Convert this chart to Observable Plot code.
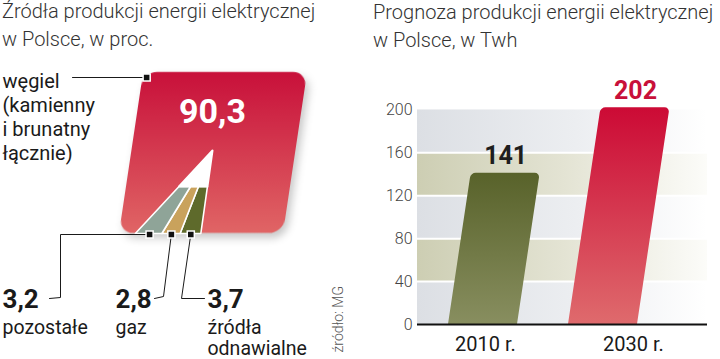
<!DOCTYPE html>
<html><head><meta charset="utf-8">
<script src="https://cdn.jsdelivr.net/npm/d3@7"></script>
<script src="https://cdn.jsdelivr.net/npm/@observablehq/plot@0.6"></script>
<style>
html,body{margin:0;padding:0;background:#fff;}
#root{position:relative;width:720px;height:359px;overflow:hidden;font-family:Roboto,"Noto Sans",sans-serif;}
.panel{position:absolute;top:0;width:360px;height:359px;}
.title{position:absolute;font-weight:300;color:#333;line-height:28px;white-space:nowrap;}
</style></head><body>
<svg width="0" height="0" style="position:absolute">
<defs>
<linearGradient id="gRed" x1="0" y1="0" x2="0" y2="1"><stop offset="0" stop-color="#c8103a"/><stop offset="1" stop-color="#e06565"/></linearGradient>
<linearGradient id="gRed2" x1="0" y1="0" x2="0" y2="1"><stop offset="0" stop-color="#cc0a35"/><stop offset="1" stop-color="#e07070"/></linearGradient>
<linearGradient id="gOlive" x1="0" y1="0" x2="0" y2="1"><stop offset="0" stop-color="#58622a"/><stop offset="1" stop-color="#8c9264"/></linearGradient>
<linearGradient id="gBandGray" x1="0" y1="0" x2="1" y2="0"><stop offset="0" stop-color="#dcdfe4"/><stop offset="0.55" stop-color="#eceef1"/><stop offset="1" stop-color="#ffffff"/></linearGradient>
<linearGradient id="gBandBeige" x1="0" y1="0" x2="1" y2="0"><stop offset="0" stop-color="#cdceb3"/><stop offset="0.5" stop-color="#e3e3d3"/><stop offset="1" stop-color="#fcfcf9"/></linearGradient>
</defs></svg>
<div id="root">
 <div id="left" class="panel" style="left:0"></div>
 <div id="right" class="panel" style="left:360px"></div>
 <div class="title" style="left:2px;top:-3px;font-size:20px">Źródła produkcji energii elektrycznej<br>w Polsce, w proc.</div>
 <div class="title" style="left:373px;top:-2px;font-size:20px">Prognoza produkcji energii elektrycznej<br>w Polsce, w Twh</div>
</div>
<script>
// ---- data ----
const sourceNames = ["węgiel\n(kamienny\ni brunatny\nłącznie)", "pozostałe", "gaz", "źródła\nodnawialne"];
const sourceShares = [90.3, 3.2, 2.8, 3.7];
const sourceColors = ["url(#gRed)", "#8fa498", "#c9a25c", "#5e6a2b"];
const sourceNote = "źródło: MG";
const years = ["2010 r.", "2030 r."];
const production = [141, 202];
const yTicks = [0, 40, 80, 120, 160, 200];

const fmt = v => String(v).replace(".", ",");
const SKEW = 0.15;
const SKEW_DEG = -Math.atan(SKEW) * 180 / Math.PI;
const FONT = "Roboto, 'Noto Sans', sans-serif";

// ---- left panel: stylised pie inside skewed shape ----
const L = {x0: 119, w: 164, top: 72, bottom: 233, rx: 14, cx: 212, cy: 150, yIn: 186, rot: 8};
const total = d3.sum(sourceShares);
const xAt = (deg, Y) => L.cx - (Y - L.cy) * Math.tan(deg * Math.PI / 180);
let ang = L.rot;
const slices = [3, 2, 1].map(i => {
  const a1 = ang, a2 = ang + sourceShares[i] / total * 360; ang = a2;
  return {i,
    pts: [[xAt(a1, L.yIn), L.yIn], [xAt(a2, L.yIn), L.yIn], [xAt(a2, L.bottom), L.bottom], [xAt(a1, L.bottom), L.bottom]].map(([x, y]) => ({x, y})),
    mx: xAt((a1 + a2) / 2, L.bottom)};
});
const wedge = [{x: L.cx, y: L.cy}, {x: xAt(L.rot, L.yIn), y: L.yIn}, {x: xAt(ang, L.yIn), y: L.yIn}];
const markerTop = {x: L.x0 + SKEW * (L.bottom - L.top) + 3, y: L.top + 5};
const markerOf = {};
slices.forEach(s => markerOf[s.i] = {x: s.mx, y: L.bottom + 1});
const markers = [markerTop, markerOf[1], markerOf[2], markerOf[3]];

const leaders = [
  [{x: 72, y: markerTop.y}, markerTop],
  [markerOf[1], {x: 60, y: markerOf[1].y}, {x: 60, y: 297}, {x: 49, y: 298}],
  [markerOf[2], {x: 163, y: 296}, {x: 154, y: 298}],
  [markerOf[3], {x: 181, y: 298}, {x: 204, y: 298}]
].flatMap((pts, k) => pts.map(p => ({...p, k})));

const labelPos = [
  {x: 2, base: 85, fs: 20, lh: 1.2},
  {x: 2, base: 332, fs: 19.5, lh: 1.1},
  {x: 115, base: 332, fs: 19.5, lh: 1.1},
  {x: 207, base: 332, fs: 19.5, lh: 1.1}
];
const valueBase = 307, valueFs = 26;

const leftMarks = [
  Plot.rect([L], {x1: d => d.x0, x2: d => d.x0 + d.w, y1: "top", y2: "bottom", rx: L.rx, fill: sourceColors[0]}),
  ...slices.map(s => Plot.line(s.pts, {x: "x", y: "y", curve: "linear-closed", fill: sourceColors[s.i], stroke: "white", strokeWidth: 1.6})),
  Plot.line(wedge, {x: "x", y: "y", curve: "linear-closed", fill: "white", stroke: "white", strokeWidth: 2}),
  Plot.line(leaders, {x: "x", y: "y", z: "k", stroke: "#1a1a1a", strokeWidth: 1}),
  Plot.dot(markers, {x: "x", y: "y", symbol: "square", r: 4, fill: "#111", stroke: "white", strokeWidth: 1.5}),
  Plot.text([fmt(sourceShares[0])], {x: L.cx, y: 122 - 0.71 * 34, text: d => d, lineAnchor: "top", textAnchor: "middle", fontSize: 34, fontWeight: "bold", fill: "white", fontFamily: FONT}),
  ...sourceNames.map((n, i) => Plot.text([n], {x: labelPos[i].x, y: labelPos[i].base - 0.71 * labelPos[i].fs, text: d => d, lineAnchor: "top", textAnchor: "start", fontSize: labelPos[i].fs, lineHeight: labelPos[i].lh, fill: "#1a1a1a", fontFamily: FONT})),
  ...[1, 2, 3].map(i => Plot.text([fmt(sourceShares[i])], {x: labelPos[i].x, y: valueBase - 0.71 * valueFs, text: d => d, lineAnchor: "top", textAnchor: "start", fontSize: valueFs, fontWeight: "bold", fill: "#1a1a1a", fontFamily: FONT})),
  Plot.text([sourceNote], {x: 338, y: 352, text: d => d, rotate: -90, textAnchor: "start", fontSize: 14, fontWeight: 300, fill: "#555", fontFamily: FONT})
];

const leftSvg = Plot.plot({
  width: 360, height: 359, margin: 0,
  style: {background: "transparent", fontFamily: FONT},
  x: {type: "identity", axis: null},
  y: {type: "identity", axis: null},
  marks: leftMarks
});
leftSvg.querySelectorAll('g[aria-label="rect"] rect').forEach(r => {
  r.style.transformOrigin = `0px ${L.bottom}px`;
  r.style.transform = `skewX(${SKEW_DEG}deg)`;
  r.style.filter = "drop-shadow(4px 5px 4px rgba(0,0,0,0.22))";
});
document.getElementById("left").append(leftSvg);

// ---- right panel: bar chart ----
const R = {width: 360, height: 359, mL: 57, mR: 13, mT: 88, mB: 35, barRange: [88, 277], pad: 0.425, rx: 5, labelDx: [2.5, 30.5]};
const yOpts = {domain: [0, 220], range: [R.height - R.mB, R.mT]};
const yS = Plot.scale({y: yOpts});
const rows = years.map((year, i) => ({year, value: production[i]}));
const bands = d3.pairs(yTicks).map(([lo, hi], k) => ({lo, hi, k}));

const rightSvg = Plot.plot({
  width: R.width, height: R.height,
  marginLeft: R.mL, marginRight: R.mR, marginTop: R.mT, marginBottom: R.mB,
  style: {background: "transparent", fontFamily: FONT, fontSize: "16px", fontWeight: 300, color: "#444"},
  x: {domain: years, range: R.barRange, paddingInner: R.pad, paddingOuter: 0, axis: null},
  y: {...yOpts, ticks: yTicks, tickSize: 0, tickPadding: 5, label: null},
  color: {domain: years, range: ["url(#gOlive)", "url(#gRed2)"]},
  marks: [
    Plot.rect(bands.filter(b => b.k % 2 === 0), {y1: "lo", y2: "hi", fill: "url(#gBandGray)"}),
    Plot.rect(bands.filter(b => b.k % 2 === 1), {y1: "lo", y2: "hi", fill: "url(#gBandBeige)"}),
    Plot.ruleY(yTicks.slice(1, -1), {stroke: "white", strokeWidth: 2}),
    Plot.barY(rows, {x: "year", y1: -12, y2: "value", fill: "year", rx: R.rx, clip: true}),
    Plot.ruleY([0], {stroke: "#111", strokeWidth: 2}),
    ...rows.map((r, i) => Plot.text([r], {x: "year", y: "value", text: d => String(d.value),
      dx: SKEW * (yS.apply(0) - yS.apply(r.value)), dy: -17, fontSize: 25, fontWeight: "bold",
      fill: i === 1 ? "#c8103a" : "#1e1e1e", fontFamily: FONT})),
    ...rows.map((r, i) => Plot.text([r], {x: "year", y: 0, text: "year", dx: R.labelDx[i], dy: 20.5,
      fontSize: 20, fontWeight: 400, fill: "#1a1a1a", fontFamily: FONT}))
  ]
});
rightSvg.querySelectorAll('g[aria-label="bar"] rect').forEach(r => {
  r.style.transformOrigin = `0px ${yS.apply(0)}px`;
  r.style.transform = `skewX(${SKEW_DEG}deg)`;
});
document.getElementById("right").append(rightSvg);
</script>
</body></html>
